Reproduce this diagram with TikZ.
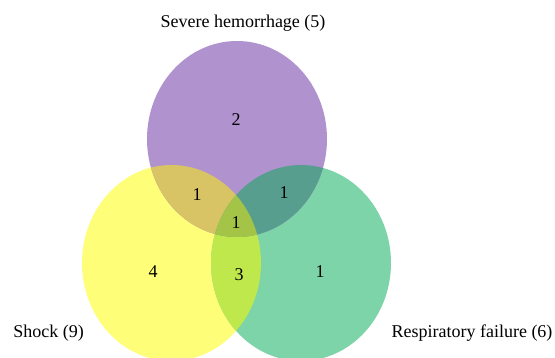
\documentclass[tikz,border=0pt]{standalone}
\usepackage{fontspec}
\setmainfont{Liberation Serif}
\definecolor{cP}{HTML}{B092CE}
\definecolor{cY}{HTML}{FEFE78}
\definecolor{cG}{HTML}{7DD4A8}
\definecolor{cYP}{HTML}{D8C464}
\definecolor{cPG}{HTML}{589E8F}
\definecolor{cYG}{HTML}{BEE84B}
\definecolor{cYPG}{HTML}{A4C448}
\tikzset{lbl/.style={font=\fontsize{18}{20}\selectfont, inner sep=0pt},
         num/.style={font=\fontsize{18}{20}\selectfont, inner sep=0pt}}
\begin{document}
\begin{tikzpicture}[x=1pt,y=1pt]
\useasboundingbox (0,0) rectangle (555,358);
\clip (0,0) rectangle (555,358);
\def\PE{(237,219) ellipse [x radius=90, y radius=98]}
\def\YE{(171.5,95) ellipse [x radius=89.5, y radius=98]}
\def\GE{(301,95) ellipse [x radius=90, y radius=98]}
\fill[cY] \YE;
\fill[cG] \GE;
\fill[cP] \PE;
\begin{scope}\clip \YE; \fill[cYP] \PE; \end{scope}
\begin{scope}\clip \YE; \fill[cYG] \GE; \end{scope}
\begin{scope}\clip \PE; \fill[cPG] \GE; \end{scope}
\begin{scope}\clip \YE; \clip \PE; \fill[cYPG] \GE; \end{scope}
\node[lbl] (tP) at (243,335) {Severe hemorrhage (5)};
\node[lbl] (tY) at (48.5,25) {Shock (9)};
\node[lbl] (tG) at (472,25) {Respiratory failure (6)};
\node[num] (n2) at (236,238) {2};
\node[num] (nYP) at (197,163) {1};
\node[num] (nPG) at (284,165) {1};
\node[num] (nC) at (236,135) {1};
\node[num] (n4) at (153,86) {4};
\node[num] (n3) at (239,83) {3};
\node[num] (nG) at (320,86) {1};
\end{tikzpicture}
\end{document}
